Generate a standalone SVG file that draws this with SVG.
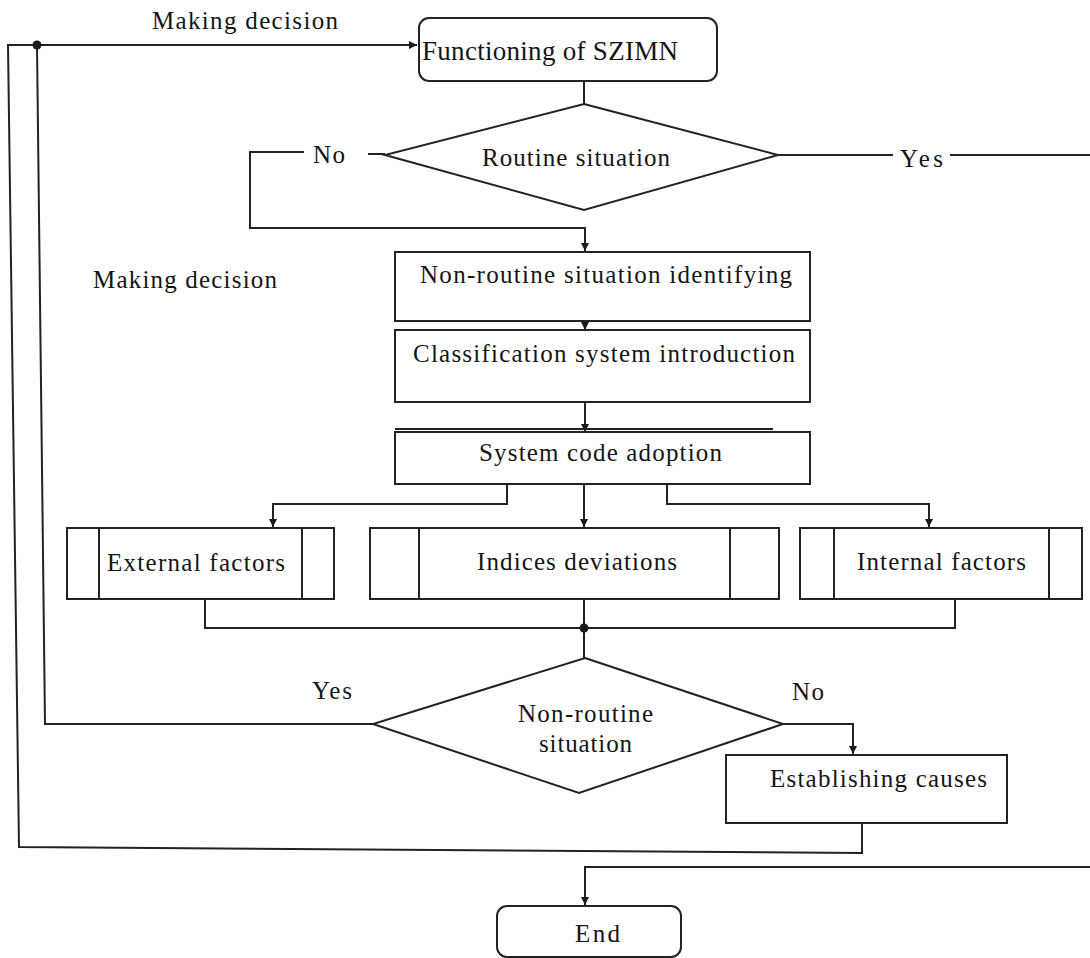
<svg xmlns="http://www.w3.org/2000/svg" width="1090" height="958" viewBox="0 0 1090 958">
  <style>
    .box { fill: #ffffff; stroke: #222222; stroke-width: 2; }
    .wire { fill: none; stroke: #222222; stroke-width: 2; }
    .arrow { fill: none; stroke: #222222; stroke-width: 2; marker-end: url(#head); }
    .lbl { font-family: "Liberation Serif", "Times New Roman", serif; font-size: 25px; fill: #151515; }
    .big { font-size: 27px; }
    .dot { fill: #1a1a1a; }
  </style>
  <defs>
    <marker id="head" viewBox="0 0 10 10" refX="10" refY="5" markerWidth="9" markerHeight="8" markerUnits="userSpaceOnUse" orient="auto">
      <path d="M0,0 L10,5 L0,10 z" fill="#1a1a1a"/>
    </marker>
  </defs>
  <rect width="1090" height="958" fill="#ffffff"/>

  <!-- connectors -->
  <g id="connectors">
    <!-- return loop into "Functioning of SZIMN" -->
    <polyline class="arrow" points="862,823 862,853 19,847 8,45 417,45"/>
    <polyline class="wire" points="373,724 45,724 37,45"/>
    <circle class="dot" cx="37" cy="45" r="4.5"/>
    <!-- Functioning -> Routine situation -->
    <line class="wire" x1="584" y1="81" x2="584" y2="104"/>
    <!-- No branch -->
    <line class="wire" x1="385" y1="154" x2="368" y2="154"/>
    <polyline class="arrow" points="304,152 250,152 250,228 585,228 585,251"/>
    <!-- Yes branch -->
    <line class="wire" x1="778" y1="155" x2="893" y2="155"/>
    <line class="wire" x1="950" y1="155" x2="1090" y2="155"/>
    <!-- vertical chain -->
    <line class="arrow" x1="585" y1="321" x2="585" y2="330"/>
    <line class="arrow" x1="585" y1="402" x2="585" y2="432"/>
    <!-- fan-out to factor blocks -->
    <polyline class="arrow" points="507,484 507,504 273,504 273,527"/>
    <line class="arrow" x1="584" y1="484" x2="584" y2="527"/>
    <polyline class="arrow" points="667,484 667,504 929,504 929,527"/>
    <!-- collector -->
    <polyline class="wire" points="205,599 205,628 955,628 955,599"/>
    <line class="wire" x1="584" y1="599" x2="584" y2="658"/>
    <circle class="dot" cx="584" cy="628" r="4.5"/>
    <!-- No -> Establishing causes -->
    <polyline class="arrow" points="783,724 853,724 853,754"/>
    <!-- routine path to End -->
    <polyline class="arrow" points="1090,867 585,867 585,905"/>
  </g>

  <g id="node-functioning">
    <rect class="box" x="419" y="18" width="298" height="63" rx="10"/>
    <text class="lbl big" x="422" y="60" textLength="256" lengthAdjust="spacing">Functioning of SZIMN</text>
  </g>

  <g id="node-routine">
    <polygon class="box" points="584,104 778,155 584,210 385,155"/>
    <text class="lbl" x="482" y="166" textLength="188" lengthAdjust="spacing">Routine situation</text>
  </g>

  <g id="labels">
    <text class="lbl" x="152" y="29" textLength="186" lengthAdjust="spacing">Making decision</text>
    <text class="lbl" x="313" y="163" textLength="32" lengthAdjust="spacing">No</text>
    <text class="lbl" x="900" y="167" textLength="43" lengthAdjust="spacing">Yes</text>
    <text class="lbl" x="93" y="288" textLength="184" lengthAdjust="spacing">Making decision</text>
    <text class="lbl" x="312" y="699" textLength="40" lengthAdjust="spacing">Yes</text>
    <text class="lbl" x="792" y="700" textLength="32" lengthAdjust="spacing">No</text>
  </g>

  <g id="node-identifying">
    <rect class="box" x="395" y="252" width="415" height="69"/>
    <text class="lbl" x="420" y="283" textLength="372" lengthAdjust="spacing">Non-routine situation identifying</text>
  </g>

  <g id="node-classification">
    <rect class="box" x="395" y="330" width="415" height="72"/>
    <text class="lbl" x="413" y="362" textLength="382" lengthAdjust="spacing">Classification system introduction</text>
  </g>

  <g id="node-code">
    <line class="wire" x1="395" y1="429" x2="773" y2="429"/>
    <rect class="box" x="395" y="432" width="415" height="52"/>
    <text class="lbl" x="479" y="461" textLength="243" lengthAdjust="spacing">System code adoption</text>
  </g>

  <g id="node-external">
    <rect class="box" x="67" y="528" width="267" height="71"/>
    <line class="wire" x1="99" y1="528" x2="99" y2="599"/>
    <line class="wire" x1="302" y1="528" x2="302" y2="599"/>
    <text class="lbl" x="107" y="571" textLength="178" lengthAdjust="spacing">External factors</text>
  </g>

  <g id="node-indices">
    <rect class="box" x="370" y="528" width="409" height="71"/>
    <line class="wire" x1="419" y1="528" x2="419" y2="599"/>
    <line class="wire" x1="730" y1="528" x2="730" y2="599"/>
    <text class="lbl" x="477" y="570" textLength="200" lengthAdjust="spacing">Indices deviations</text>
  </g>

  <g id="node-internal">
    <rect class="box" x="800" y="528" width="282" height="71"/>
    <line class="wire" x1="834" y1="528" x2="834" y2="599"/>
    <line class="wire" x1="1049" y1="528" x2="1049" y2="599"/>
    <text class="lbl" x="857" y="570" textLength="169" lengthAdjust="spacing">Internal factors</text>
  </g>

  <g id="node-nonroutine">
    <polygon class="box" points="585,658 783,724 579,793 373,724"/>
    <text class="lbl" x="518" y="722" textLength="135" lengthAdjust="spacing">Non-routine</text>
    <text class="lbl" x="539" y="752" textLength="93" lengthAdjust="spacing">situation</text>
  </g>

  <g id="node-causes">
    <rect class="box" x="726" y="755" width="281" height="68"/>
    <text class="lbl" x="770" y="787" textLength="217" lengthAdjust="spacing">Establishing causes</text>
  </g>

  <g id="node-end">
    <rect class="box" x="497" y="906" width="184" height="51" rx="10"/>
    <text class="lbl" x="575" y="942" textLength="45" lengthAdjust="spacing">End</text>
  </g>
</svg>
